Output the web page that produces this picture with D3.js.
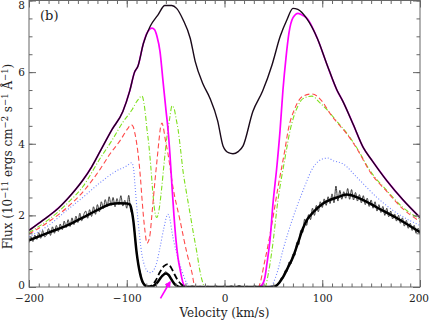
<!DOCTYPE html>
<html>
<head>
<meta charset="utf-8">
<script src="https://cdnjs.cloudflare.com/ajax/libs/d3/7.8.5/d3.min.js"></script>
<style>
body { margin: 0; background: #fff; }
svg { display: block; }
.lbl { font-family: "DejaVu Serif", "Liberation Serif", serif; fill: #222; }
</style>
</head>
<body>
<svg class="spec" width="429" height="320"></svg>
<script>
// velocity (km/s), flux (1e-11 erg cm-2 s-1 A-1)
var envelope = [[-200,1.58],[-190,1.78],[-180,1.98],[-170,2.2],[-161,2.45],[-153,2.7],[-145,2.98],[-136,3.35],[-127,3.8],
  [-115,4.4],[-104,4.9],[-97,5.47],[-92,6.0],[-88.5,6.17],[-83,6.8],[-76,7.28],[-68,7.6],[-61,7.86],[-54,7.86],[-49,7.78],
  [-42.5,7.47],[-35,6.94],[-30,6.3],[-22,5.67],[-15,5.28],[-7,4.64],[-1.5,3.94],[4,3.75],[8.7,3.72],[14,3.78],[19,3.94],
  [29,4.9],[39,5.47],[48.6,6.2],[57,7.0],[64,7.47],[70,7.78],[75,7.75],[84,7.5],[95,6.94],[105,6.2],[115,5.5],[121,5.19],
  [131.5,4.55],[142,3.89],[151,3.53],[166,2.97],[183,2.42],[200,1.94]];

// magenta model, only the part where it leaves the envelope
var magentaCore = [[-83,6.8],[-79.5,7.08],[-76.5,7.2],[-74.2,7.23],[-71.5,7.18],[-69.1,7.0],[-66,6.58],[-62.9,5.75],
  [-59.8,4.92],[-57.8,4.4],[-55.8,3.7],[-53.7,2.8],[-51.7,2.0],[-49.6,1.3],[-47.5,0.8],[-45.5,0.5],[-42.5,0.12],[-39.4,0],
  [34.3,0],[38.4,0.06],[41.4,0.28],[43.5,0.67],[46.5,1.3],[49.6,2.33],[53.7,3.4],[56.8,4.36],[59.8,5.5],[62.9,6.4],
  [66,7.1],[70.1,7.52],[75.2,7.64],[80.3,7.58],[84.4,7.5]];

var green = [[-200,1.52],[-180,1.88],[-161,2.33],[-145,2.8],[-127,3.6],[-115,4.1],[-104,4.6],[-94.6,4.95],[-89.5,5.19],
  [-84.4,5.33],[-82.5,5.15],[-81,4.85],[-79.5,4.45],[-77.5,4.0],[-75.5,3.4],[-73.5,2.7],[-71.5,2.15],[-69.3,1.94],[-67,2.15],
  [-64.5,2.7],[-62,3.4],[-59,4.17],[-56,4.72],[-53.7,5.06],[-51.5,4.98],[-49.5,4.7],[-47.5,4.4],[-45,3.85],[-42.5,3.25],
  [-39,2.65],[-35.3,2.06],[-31.5,1.45],[-28.1,0.94],[-25.5,0.5],[-23,0.19],[-20,0],[41.4,0],[45,0.4],[48.6,1.03],
  [54.7,2.42],[61.9,3.6],[67,4.36],[74.2,5.0],[80.3,5.26],[89.5,5.33],[97.7,5.14],[105.9,4.92],[115,4.62],[125,4.3],
  [135.5,3.88],[148.8,3.25],[166.2,2.69],[182.6,2.22],[200,1.9]];

var red = [[-200,1.48],[-180,1.82],[-161,2.22],[-145,2.65],[-127,3.3],[-117,3.72],[-107,4.08],[-99,4.42],[-95.5,4.53],
  [-93.5,4.48],[-91.6,4.28],[-89.5,3.95],[-87.5,3.5],[-86,3.05],[-84.5,2.5],[-83,2.0],[-81.3,1.55],[-79.3,1.22],[-77.5,1.3],
  [-76,1.5],[-74.5,1.95],[-73,2.4],[-71,3.0],[-69,3.55],[-67,4.1],[-65.5,4.45],[-63.9,4.58],[-62.5,4.45],[-60.9,4.17],
  [-57.8,3.72],[-52.7,2.78],[-45.5,1.86],[-38.4,0.94],[-33.2,0.39],[-30.2,0],[34.3,0],[41.4,0.75],[48.6,1.78],[54.7,2.78],
  [61.9,3.85],[65,4.36],[72.2,5.0],[80.3,5.33],[89.5,5.39],[99.7,5.19],[107.9,4.85],[115,4.6],[125,4.28],[135.5,3.86],
  [148.8,3.22],[166.2,2.66],[182.6,2.18],[200,1.83]];

var blue = [[-200,1.4],[-180,1.72],[-161,2.15],[-145,2.5],[-127,2.92],[-110,3.25],[-100,3.38],[-95,3.47],[-93,3.3],
  [-91.6,2.85],[-88.5,1.86],[-84.7,0.94],[-81.3,0.56],[-78,0.42],[-75.5,0.4],[-73,0.45],[-70,0.62],[-66,1.1],[-62,1.65],
  [-58,2.03],[-55.5,1.85],[-54,1.58],[-48.9,0.94],[-43.8,0.47],[-38.7,0.11],[-35.3,0],[46.5,0],[53.7,0.39],[59.8,1.03],
  [70.1,1.94],[80.3,2.69],[90.5,3.33],[100.8,3.58],[106,3.6],[111,3.53],[121.2,3.44],[135.5,3.06],[156,2.5],[176.5,2.06],
  [200,1.72]];

var fit = [[-200,1.3],[-180,1.52],[-161,1.72],[-145,1.94],[-127,2.19],[-117,2.31],[-108,2.34],[-100,2.33],[-96.7,2.3],
  [-95,2.15],[-93.3,1.86],[-89.8,0.94],[-86.4,0.38],[-83,0.1],[-79,0.01],[-76,0],[-72,0.04],[-68,0.15],[-64,0.3],[-60,0.38],
  [-57,0.33],[-54,0.2],[-51,0.08],[-48,0.02],[-45,0],[48,0],[52,0.02],[56,0.12],[60,0.28],[65,0.55],[70,0.83],[75,1.22],
  [80,1.62],[85,1.9],[90.5,2.08],[100.8,2.33],[115,2.5],[125,2.58],[138.6,2.47],[156,2.22],[176.5,1.92],[200,1.53]];

var fitDashed = [[-80,0],[-74,0.05],[-70,0.2],[-66,0.42],[-62,0.58],[-58,0.64],[-55,0.56],[-52,0.4],[-48,0.2],[-44,0.07],
  [-40,0.01],[-36,0]];

var observedBlue = [[-200,1.24],[-198,1.41],[-196,1.27],[-194,1.45],[-192,1.33],[-190,1.52],[-188,1.36],[-186,1.58],
  [-184,1.40],[-182,1.46],[-180,1.63],[-178,1.44],[-176,1.68],[-174,1.50],[-172,1.72],[-170,1.55],[-168,1.76],[-166,1.60],
  [-164,1.84],[-162,1.66],[-160,1.88],[-158,1.69],[-156,1.93],[-154,1.74],[-152,1.98],[-150,1.80],[-148,2.06],[-146,1.85],
  [-144,2.02],[-142,2.12],[-140,1.92],[-138,2.16],[-136,1.97],[-134,2.24],[-132,2.03],[-130,2.30],[-128,2.10],[-126,2.38],
  [-124,2.19],[-122,2.44],[-120,2.25],[-118,2.52],[-116,2.28],[-114,2.50],[-112,2.24],[-110,2.47],[-108,2.30],[-106,2.55],
  [-104,2.26],[-102,2.42],[-100,2.20],[-98,2.56],[-96,2.14],[-94,2.00],[-92,1.50],[-90,1.02],[-88,0.62],[-86,0.40],
  [-84,0.12],[-82,0.08],[-80,0.01]];

var observedMid = [[-78,0.03],[-75,0.01],[-72,0.06],[-69,0.12],[-66,0.27],[-63,0.33],[-60,0.43],[-57,0.3],[-54,0.22],
  [-51,0.06],[-48,0.03],[-45,0.0],[-41,0.02],[-37,0.0],[-33,0.03],[-29,0.0],[-25,0.02],[-21,0.0],[-17,0.02],[-13,0.0],
  [-9,0.03],[-5,0.0],[-1,0.02],[3,0.0],[7,0.03],[11,0.0],[15,0.04],[19,0.0],[23,0.02],[27,0.0],[31,0.03],[35,0.0],
  [39,0.02],[43,0.0],[47,0.02]];

var observedRed = [[50,0.02],[52,0.00],[54,0.08],[56,0.10],[58,0.26],[60,0.24],[62,0.46],[64,0.43],[66,0.70],[68,0.64],
  [70,0.92],[72,0.88],[74,1.25],[76,1.18],[78,1.58],[80,1.52],[82,1.90],[84,1.72],[86,2.02],[88,1.88],[90,2.20],[92,2.00],
  [94,2.28],[96,2.10],[98,2.38],[100,2.22],[102,2.46],[104,2.28],[106,2.52],[108,2.33],[110,2.60],[112,2.35],[114,2.82],
  [116,2.40],[118,2.70],[120,2.45],[122,2.66],[124,2.48],[126,2.75],[128,2.45],[130,2.72],[132,2.43],[134,2.64],[136,2.40],
  [138,2.58],[140,2.35],[142,2.55],[144,2.30],[146,2.48],[148,2.25],[150,2.43],[152,2.20],[154,2.38],[156,2.12],[158,2.30],
  [160,2.08],[162,2.25],[164,2.00],[166,2.20],[168,1.96],[170,2.12],[172,1.90],[174,2.04],[176,1.84],[178,2.00],[180,1.78],
  [182,1.93],[184,1.70],[186,1.86],[188,1.64],[190,1.78],[192,1.58],[194,1.72],[196,1.50],[198,1.64],[200,1.47]];

var xTicks = [-200, -100, 0, 100, 200];
var yTicks = [0, 2, 4, 6, 8];
var arrowFrom = [-65.5, -0.32], arrowTo = [-55.8, 0.14];

var svg = d3.select("svg.spec"),
    margin = {top: 0.5, right: 9, bottom: 33, left: 29},
    width = 429 - margin.left - margin.right,
    height = 320 - margin.top - margin.bottom,
    g = svg.append("g").attr("transform", "translate(" + margin.left + "," + margin.top + ")");

var x = d3.scaleLinear().domain([-200, 200]).range([0, width]),
    y = d3.scaleLinear().domain([0, 8]).range([height, 0]);

var line = d3.line()
    .curve(d3.curveMonotoneX)
    .x(function(d) { return x(d[0]); })
    .y(function(d) { return y(d[1]); });

svg.append("defs").append("clipPath").attr("id", "plotclip")
  .append("rect").attr("width", width).attr("height", height);

svg.select("defs").append("marker")
    .attr("id", "head")
    .attr("viewBox", "0 0 10 10")
    .attr("refX", 8).attr("refY", 5)
    .attr("markerWidth", 4).attr("markerHeight", 4)
    .attr("orient", "auto")
  .append("path")
    .attr("d", "M0,0L10,5L0,10z")
    .attr("fill", "#ff00ff");

// magenta model = envelope wings + its own core
var magenta = envelope.filter(function(d) { return d[0] <= -88.5; })
  .concat(magentaCore)
  .concat(envelope.filter(function(d) { return d[0] >= 95; }));

var observed = observedBlue.concat(observedMid).concat(observedRed);

var curves = g.append("g").attr("clip-path", "url(#plotclip)");

var series = [
  {data: green, stroke: "#7ee01e", width: 1.1, dash: "5,2,1,2"},
  {data: red, stroke: "#ff4a4a", width: 1.1, dash: "5,3"},
  {data: blue, stroke: "#7083ff", width: 1.1, dash: "1,2"},
  {data: magenta, stroke: "#ff00ff", width: 1.7, dash: null},
  {data: envelope, stroke: "#1a0a1a", width: 1.4, dash: null},
  {data: observed, stroke: "#3a3a3a", width: 1, dash: null},
  {data: fit, stroke: "#000", width: 2.5, dash: null},
  {data: fitDashed, stroke: "#000", width: 1.8, dash: "6,3"}
];

curves.selectAll(".series")
  .data(series)
  .enter()
  .append("path")
    .attr("class", "series")
    .attr("d", function(d) { return line(d.data); })
    .style("fill", "none")
    .style("stroke", function(d) { return d.stroke; })
    .style("stroke-width", function(d) { return d.width; })
    .style("stroke-dasharray", function(d) { return d.dash; })
    .style("stroke-linejoin", "round");

// axes, ticks pointing inward on all four sides
var minorX = d3.range(-200, 201, 10), minorY = d3.range(0, 8.01, 0.5);

function styleAxis(sel) {
  sel.select(".domain").remove();
  sel.selectAll("line").attr("stroke", "#666");
  sel.selectAll("text").attr("class", "lbl").style("font-size", "10.5px").attr("fill", "#222");
}

var xAxisG = g.append("g").attr("transform", "translate(0," + height + ")");
xAxisG.call(d3.axisBottom(x).tickValues(minorX).tickSize(-3.5).tickFormat("")).call(styleAxis);
var xLab = g.append("g").attr("transform", "translate(0," + height + ")")
  .call(d3.axisBottom(x).tickValues(xTicks).tickSize(-7).tickPadding(8)).call(styleAxis);
// last label sits against the window edge
xLab.selectAll("text").filter(function(d) { return d === 200; }).attr("dx", -1.5);

g.append("g")
  .call(d3.axisTop(x).tickValues(minorX).tickSize(-3.5).tickFormat("")).call(styleAxis);
g.append("g")
  .call(d3.axisTop(x).tickValues(xTicks).tickSize(-7).tickFormat("")).call(styleAxis);
g.append("g")
  .call(d3.axisLeft(y).tickValues(minorY).tickSize(-3.5).tickFormat("")).call(styleAxis);
var yLab = g.append("g")
  .call(d3.axisLeft(y).tickValues(yTicks).tickSize(-7).tickPadding(4)).call(styleAxis);
yLab.selectAll("text").filter(function(d) { return d === 8; }).attr("dy", "0.75em");
yLab.selectAll("text").filter(function(d) { return d === 0; }).attr("dy", "0.1em");
g.append("g").attr("transform", "translate(" + width + ",0)")
  .call(d3.axisRight(y).tickValues(minorY).tickSize(-3.5).tickFormat("")).call(styleAxis);
g.append("g").attr("transform", "translate(" + width + ",0)")
  .call(d3.axisRight(y).tickValues(yTicks).tickSize(-7).tickFormat("")).call(styleAxis);

g.append("rect")
  .attr("width", width).attr("height", height)
  .style("fill", "none").style("stroke", "#666").style("stroke-width", 1);

// arrow under the small emission bump
g.append("line")
  .attr("x1", x(arrowFrom[0])).attr("y1", y(arrowFrom[1]))
  .attr("x2", x(arrowTo[0])).attr("y2", y(arrowTo[1]))
  .style("stroke", "#ff00ff").style("stroke-width", 1.6)
  .attr("marker-end", "url(#head)");

g.append("text")
  .attr("class", "lbl")
  .attr("x", 11).attr("y", 19)
  .style("font-size", "13px")
  .text("(b)");

svg.append("text")
  .attr("class", "lbl")
  .attr("x", margin.left + width / 2).attr("y", 317)
  .attr("text-anchor", "middle")
  .style("font-size", "12px")
  .text("Velocity (km/s)");

var ylab = svg.append("text")
  .attr("class", "lbl")
  .attr("transform", "translate(12," + (margin.top + 156) + ") rotate(-90)")
  .attr("text-anchor", "middle")
  .style("font-size", "12px");

var yParts = [["Flux (10", false], ["\u221211", true], [" ergs cm", false], ["\u22122", true],
  [" s", false], ["\u22121", true], [" \u00c5", false], ["\u22121", true], [")", false]];
var shift = 0;
yParts.forEach(function(p) {
  var dy = p[1] ? -4.5 - shift : -shift;
  shift = p[1] ? -4.5 : 0;
  ylab.append("tspan")
    .attr("dy", dy)
    .style("font-size", p[1] ? "8.5px" : "12px")
    .text(p[0]);
});
</script>
</body>
</html>
